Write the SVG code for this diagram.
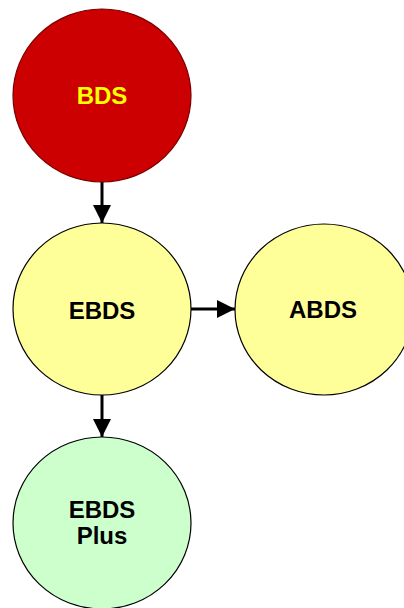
<svg xmlns="http://www.w3.org/2000/svg" width="404" height="608" viewBox="0 0 404 608">
<style>
.n{stroke-width:1.2}
.t{font-family:"Liberation Sans",Arial,sans-serif;font-weight:bold;font-size:24px;text-anchor:middle}
.c{stroke:#000;stroke-width:3;fill:none}
</style>
<defs>
<marker id="ah" markerWidth="6" markerHeight="6" refX="6" refY="3" orient="auto" markerUnits="strokeWidth">
<path d="M0,0 L6,3 L0,6 z" fill="#000"/>
</marker>
</defs>
<rect width="404" height="608" fill="#fff"/>
<g id="connectors">
<line class="c" x1="102" y1="182" x2="102" y2="223" marker-end="url(#ah)"/>
<line class="c" x1="191" y1="309" x2="235" y2="309" marker-end="url(#ah)"/>
<line class="c" x1="102" y1="395" x2="102" y2="437" marker-end="url(#ah)"/>
</g>
<g id="BDS">
<ellipse class="n" cx="102" cy="95.5" rx="89" ry="86.5" fill="#CC0000" stroke="#7a0000"/>
<text class="t" x="102" y="104" fill="#FFFF00">BDS</text>
</g>
<g id="EBDS">
<ellipse class="n" cx="102" cy="309" rx="89" ry="86" fill="#FFFF99" stroke="#000"/>
<text class="t" x="102" y="319" fill="#000">EBDS</text>
</g>
<g id="ABDS">
<ellipse class="n" cx="324" cy="309.5" rx="89" ry="85.5" fill="#FFFF99" stroke="#000"/>
<text class="t" x="323" y="318" fill="#000">ABDS</text>
</g>
<g id="EBDSPlus">
<ellipse class="n" cx="102" cy="523" rx="89" ry="86" fill="#CCFFCC" stroke="#000"/>
<text class="t" x="102" y="518" fill="#000">EBDS</text>
<text class="t" x="102" y="544" fill="#000">Plus</text>
</g>
</svg>
